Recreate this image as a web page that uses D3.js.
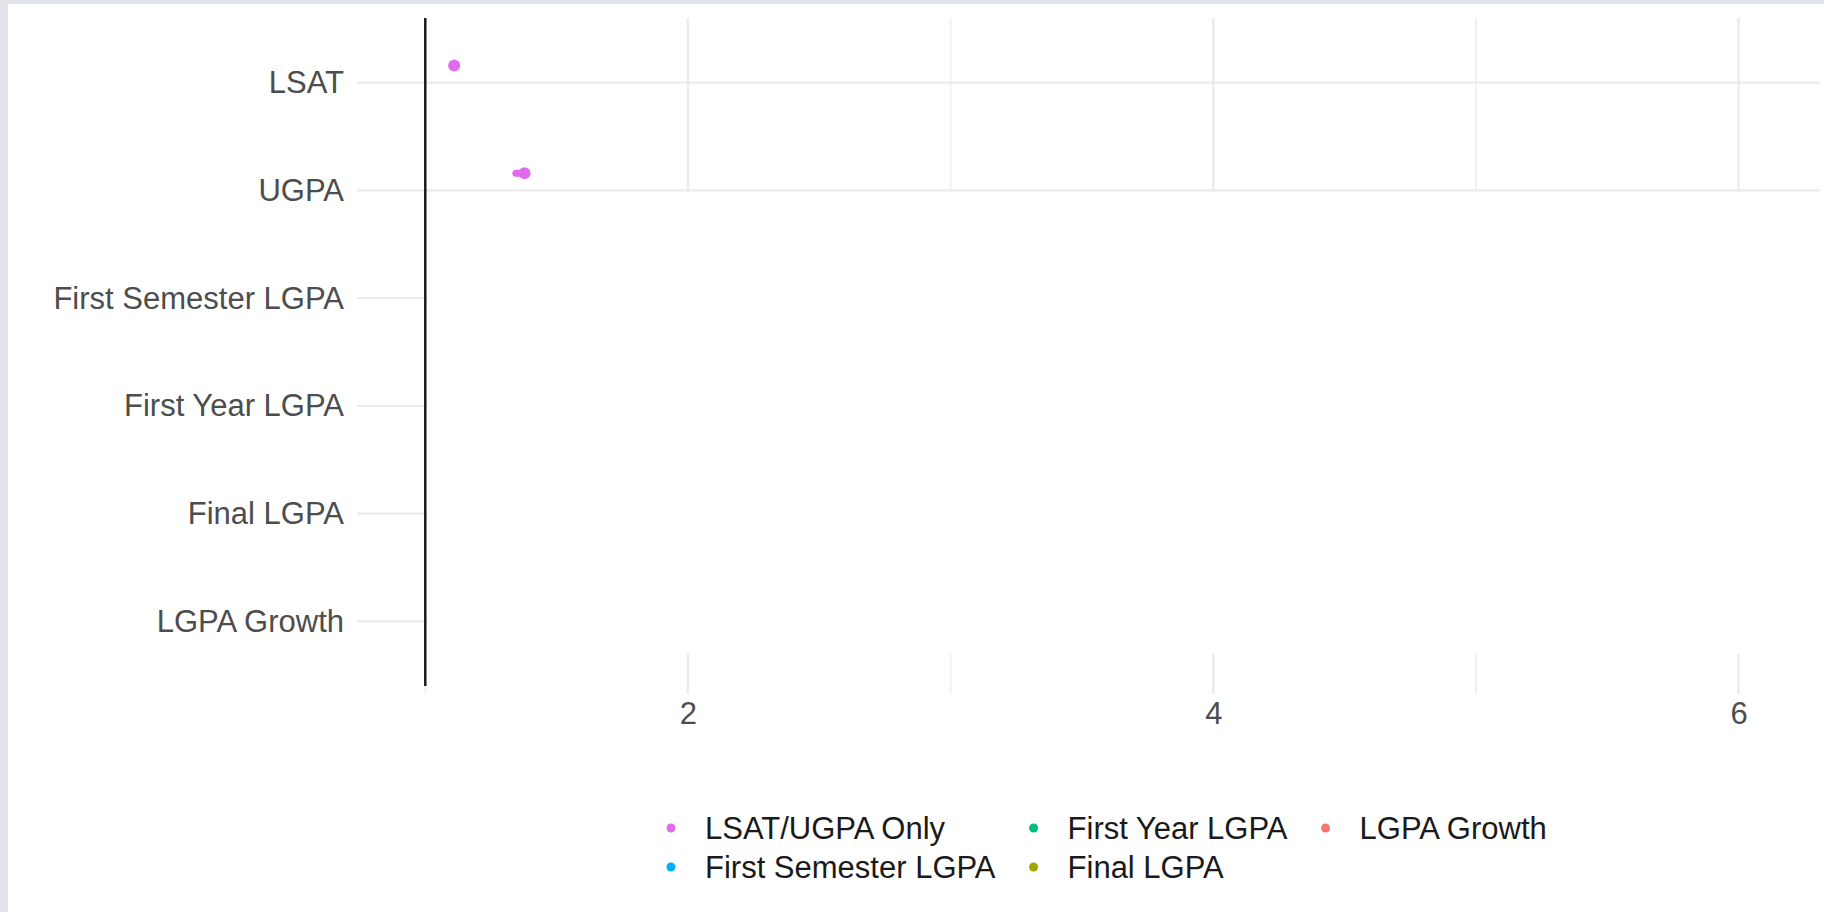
<!DOCTYPE html>
<html>
<head>
<meta charset="utf-8">
<script src="https://cdn.jsdelivr.net/npm/d3@7"></script>
<style>
body { margin: 0; background: #fff; overflow: hidden; }
text { font-family: "Liberation Sans", Arial, Helvetica, sans-serif; }
</style>
</head>
<body>
<div id="chart"></div>
<script>
// rows of the plot, top to bottom
var predictors = ["LSAT", "UGPA", "First Semester LGPA", "First Year LGPA", "Final LGPA", "LGPA Growth"];
// legend order (filled column by column, 2 rows)
var models = ["LSAT/UGPA Only", "First Semester LGPA", "First Year LGPA", "Final LGPA", "LGPA Growth"];
var modelColors = ["#E06BF0", "#00B0F6", "#00BF7D", "#A3A500", "#F8766D"];

// only the LSAT/UGPA Only model is visible in the picture
var onlyPredictors = ["LSAT", "UGPA"];
var onlyEstimate = [1.11, 1.378];
var onlyLower = [1.105, 1.345];
var onlyUpper = [1.115, 1.385];

var xMajor = [2, 4, 6];
var xMinor = [1, 3, 5];
var refLine = 1;

function Forest(){
    this.sizes = {width: 1824, height: 912};
    this.panel = {left: 357, right: 1820, top: 18, bottom: 686};
}

Forest.prototype.make_svg = function(){
    this.svg = d3.select('#chart').append('svg')
        .attr('width', this.sizes.width)
        .attr('height', this.sizes.height);
    // grey frame strips of the screenshot
    this.svg.append('rect').attr('x', 0).attr('y', 0)
        .attr('width', this.sizes.width).attr('height', 4).attr('fill', '#e1e5eb');
    this.svg.append('rect').attr('x', 0).attr('y', 0)
        .attr('width', 8).attr('height', this.sizes.height).attr('fill', '#e1e5eb');
};

Forest.prototype.scales = function(){
    var p = this.panel;
    this.x = d3.scaleLinear().domain([0.74, 6.31]).range([p.left, p.right]);
    this.y = d3.scalePoint().domain(predictors).range([p.top, p.bottom]).padding(0.6);
};

Forest.prototype.grid = function(){
    var x = this.x, y = this.y, p = this.panel, g = this.svg.append('g');
    g.selectAll('.minor').data(xMinor).enter().append('line')
        .attr('x1', x).attr('x2', x).attr('y1', p.top).attr('y2', p.bottom + 8)
        .attr('stroke', '#efefef').attr('stroke-width', 1.6);
    g.selectAll('.major').data(xMajor).enter().append('line')
        .attr('x1', x).attr('x2', x).attr('y1', p.top).attr('y2', p.bottom + 8)
        .attr('stroke', '#ebebeb').attr('stroke-width', 2.4);
    g.selectAll('.hline').data(predictors).enter().append('line')
        .attr('x1', p.left).attr('x2', p.right)
        .attr('y1', function(d){ return y(d); }).attr('y2', function(d){ return y(d); })
        .attr('stroke', '#ebebeb').attr('stroke-width', 2.4);

    // the lower part of the panel is blank in the reference
    var top = y('UGPA') + 2, bottom = y('LGPA Growth') + 0.3 * y.step();
    g.append('rect')
        .attr('x', x(refLine) + 2).attr('y', top)
        .attr('width', p.right + 4 - x(refLine)).attr('height', bottom - top)
        .attr('fill', '#fff');

    g.append('line')
        .attr('x1', x(refLine)).attr('x2', x(refLine))
        .attr('y1', p.top).attr('y2', p.bottom)
        .attr('stroke', '#1a1a1a').attr('stroke-width', 2.5);
};

Forest.prototype.axes = function(){
    var p = this.panel;
    var ax = this.svg.append('g')
        .attr('transform', 'translate(0,' + p.bottom + ')')
        .call(d3.axisBottom(this.x).tickValues(xMajor).tickSize(0).tickPadding(16).tickFormat(d3.format('d')));
    var ay = this.svg.append('g')
        .attr('transform', 'translate(' + p.left + ',0)')
        .call(d3.axisLeft(this.y).tickSize(0).tickPadding(13));
    [ax, ay].forEach(function(a){
        a.select('.domain').remove();
        a.selectAll('text').attr('font-size', 31).attr('fill', '#4d4d4d')
            .style('font-family', '"Liberation Sans", Arial, sans-serif');
    });
};

Forest.prototype.points = function(){
    var x = this.x, y = this.y;
    // dodge like ggplot: 5 groups, width 0.4; this model is the top one
    var k = models.length - 1;
    var shift = -0.4 * (k - (models.length - 1) / 2) / models.length * y.step();
    var rows = onlyPredictors.map(function(d, i){
        return {row: d, est: onlyEstimate[i], lo: onlyLower[i], hi: onlyUpper[i]};
    });
    var g = this.svg.append('g').attr('fill', modelColors[0]).attr('stroke', modelColors[0]);
    g.selectAll('line').data(rows).enter().append('line')
        .attr('x1', function(d){ return x(d.lo); }).attr('x2', function(d){ return x(d.hi); })
        .attr('y1', function(d){ return y(d.row) + shift; })
        .attr('y2', function(d){ return y(d.row) + shift; })
        .attr('stroke-width', 7).attr('stroke-linecap', 'round');
    g.selectAll('circle').data(rows).enter().append('circle')
        .attr('cx', function(d){ return x(d.est); })
        .attr('cy', function(d){ return y(d.row) + shift; })
        .attr('r', 6).attr('stroke', 'none');
};

Forest.prototype.legend = function(){
    var svg = this.svg;
    var rowsY = [828, 867], startX = 671, keyW = 34, gap = 38;
    var lg = svg.append('g');
    var ncol = Math.ceil(models.length / 2), colX = startX;
    for (var c = 0; c < ncol; c++){
        var widest = 0;
        for (var r = 0; r < 2; r++){
            var i = c * 2 + r;
            if (i >= models.length) break;
            lg.append('circle').attr('cx', colX).attr('cy', rowsY[r])
                .attr('r', 4.5).attr('fill', modelColors[i]);
            var t = lg.append('text').attr('x', colX + keyW).attr('y', rowsY[r])
                .attr('dy', '0.35em').attr('font-size', 31).attr('fill', '#1a1a1a')
                .text(models[i]);
            widest = Math.max(widest, t.node().getComputedTextLength());
        }
        colX += keyW + widest + gap;
    }
};

Forest.prototype.runit = function(){
    this.make_svg();
    this.scales();
    this.grid();
    this.axes();
    this.points();
    this.legend();
};

var chart = new Forest();
chart.runit();
</script>
</body>
</html>
